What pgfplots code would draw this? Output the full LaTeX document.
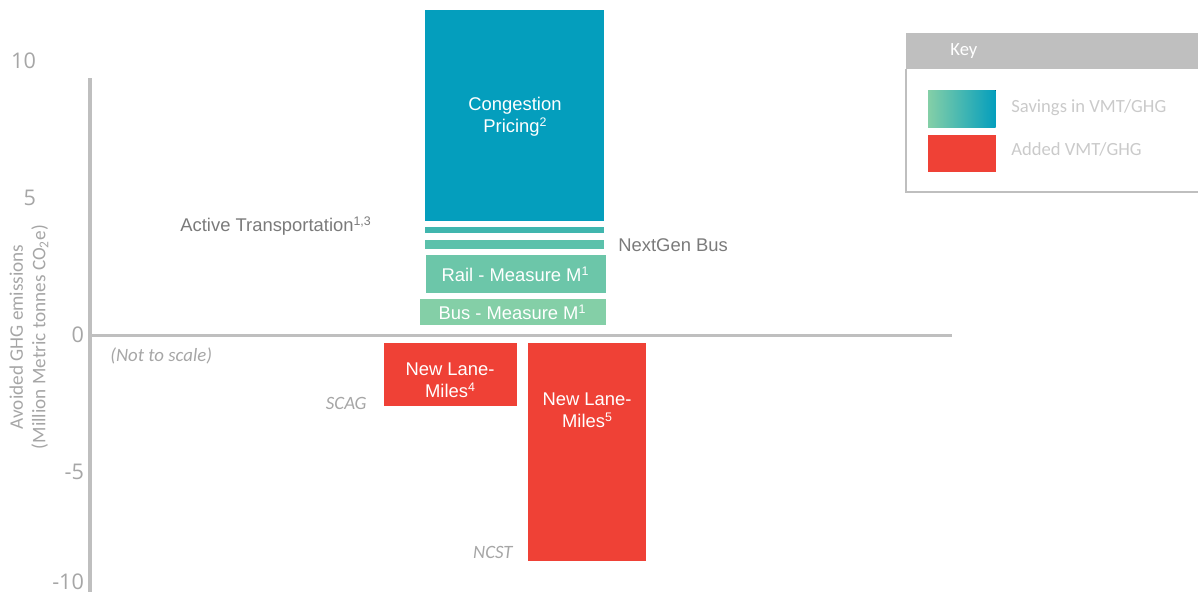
\documentclass[border=0pt]{standalone}
\usepackage{pgfplots}
\pgfplotsset{compat=1.18}
\usepackage{fontspec}
\setmainfont{Liberation Sans}
\newfontfamily\calibri{Carlito}
\newfontfamily\osans{Open Sans}
\newcommand{\fn}[1]{\raisebox{0.62ex}{\fontsize{6.2}{6}\selectfont #1}}

\definecolor{cong}{HTML}{049EBD}
\definecolor{active}{HTML}{40B6AE}
\definecolor{nextgen}{HTML}{5BC1AB}
\definecolor{rail}{HTML}{6CC6A9}
\definecolor{bus}{HTML}{84CFA7}
\definecolor{added}{HTML}{EF4136}
\definecolor{axgray}{HTML}{BFBFBF}
\definecolor{tickgray}{HTML}{A6A6A6}
\definecolor{txtgray}{HTML}{7A7A7A}
\definecolor{keytxt}{HTML}{CACACA}

% x is in image columns (0..1198), y in million tonnes
\begin{document}
\begin{tikzpicture}
\begin{axis}[
  scale only axis,
  width=599pt, height=296pt,
  xmin=0, xmax=1198,
  ymin=-9.38, ymax=12.23,
  axis line style={draw=none},
  tick style={draw=none},
  xtick=\empty,
  ytick={10,5,0,-5,-9.0},
  yticklabels={{10\kern24pt},{5\kern24pt},0,-5,-10},
  yticklabel style={anchor=east, xshift=45.5pt, text=tickgray,
    font=\osans\fontsize{10.8}{12}\selectfont},
  clip=false,
]
% axis lines
\addplot[axgray, line width=2pt] coordinates {(89.7,9.38) (89.7,-9.38)};
\addplot[axgray, line width=1.5pt] coordinates {(89,0) (952,0)};

% savings (stacked pieces)
\addplot[fill=bus, draw=none] coordinates {(420,0.36) (605.7,0.36) (605.7,1.30) (420,1.30)};
\addplot[fill=rail, draw=none] coordinates {(425.7,1.54) (605.7,1.54) (605.7,2.93) (425.7,2.93)};
\addplot[fill=nextgen, draw=none] coordinates {(425,3.15) (604.3,3.15) (604.3,3.47) (425,3.47)};
\addplot[fill=active, draw=none] coordinates {(425,3.73) (604.3,3.73) (604.3,3.93) (425,3.93)};
\addplot[fill=cong, draw=none] coordinates {(425,4.16) (604.3,4.16) (604.3,11.86) (425,11.86)};

% added
\addplot[fill=added, draw=none] coordinates {(384,-0.30) (517.3,-0.30) (517.3,-2.60) (384,-2.60)};
\addplot[fill=added, draw=none] coordinates {(528.3,-0.30) (645.7,-0.30) (645.7,-8.24) (528.3,-8.24)};

\begin{scope}[font=\fontsize{9.2}{11}\selectfont]
\node[text=white, align=center] at (axis cs:515,7.96) {Congestion\\Pricing\fn{2}};
\node[text=white] at (axis cs:515,2.23) {Rail - Measure M\fn{1}};
\node[text=white] at (axis cs:512,0.84) {Bus - Measure M\fn{1}};
\node[text=white, align=center] at (axis cs:450,-1.64) {New Lane-\\Miles\fn{4}};
\node[text=white, align=center] at (axis cs:587,-2.74) {New Lane-\\Miles\fn{5}};
\node[text=txtgray, anchor=west, inner sep=0pt] at (axis cs:180,3.98) {Active Transportation\fn{1,3}};
\node[text=txtgray, anchor=west, inner sep=0pt] at (axis cs:618,3.28) {NextGen Bus};
\end{scope}

\begin{scope}[font=\calibri\itshape\fontsize{9.4}{11}\selectfont, text=tickgray]
\node[anchor=west, inner sep=0pt] at (axis cs:110,-0.77) {(Not to scale)};
\node[anchor=east, inner sep=0pt] at (axis cs:367,-2.48) {SCAG};
\node[anchor=east, inner sep=0pt] at (axis cs:513,-7.92) {NCST};
\end{scope}

\node[rotate=90, align=center, text=tickgray,
  font=\calibri\fontsize{9.6}{11.3}\selectfont] at (axis cs:29,-0.07)
  {Avoided GHG emissions\\(Million Metric tonnes CO\textsubscript{2}e)};

% key
\fill[axgray] (axis cs:905.7,11.02) rectangle (axis cs:1198,9.71);
\draw[axgray, line width=0.8pt] (axis cs:905.7,9.71) -- (axis cs:905.7,5.22) -- (axis cs:1198,5.22);
\fill[left color=bus, right color=cong] (axis cs:928,8.94) rectangle (axis cs:995.7,7.59);
\fill[added] (axis cs:928,7.30) rectangle (axis cs:995.7,5.95);
\begin{scope}[font=\calibri\fontsize{9.3}{11}\selectfont]
\node[text=white, anchor=west, inner sep=0pt] at (axis cs:950,10.36) {Key};
\node[text=keytxt, anchor=west, inner sep=0pt] at (axis cs:1011,8.30) {Savings in VMT/GHG};
\node[text=keytxt, anchor=west, inner sep=0pt] at (axis cs:1011,6.77) {Added VMT/GHG};
\end{scope}
\end{axis}
\pgfresetboundingbox
\path (0,0) rectangle (599pt,296pt);
\end{tikzpicture}
\end{document}
